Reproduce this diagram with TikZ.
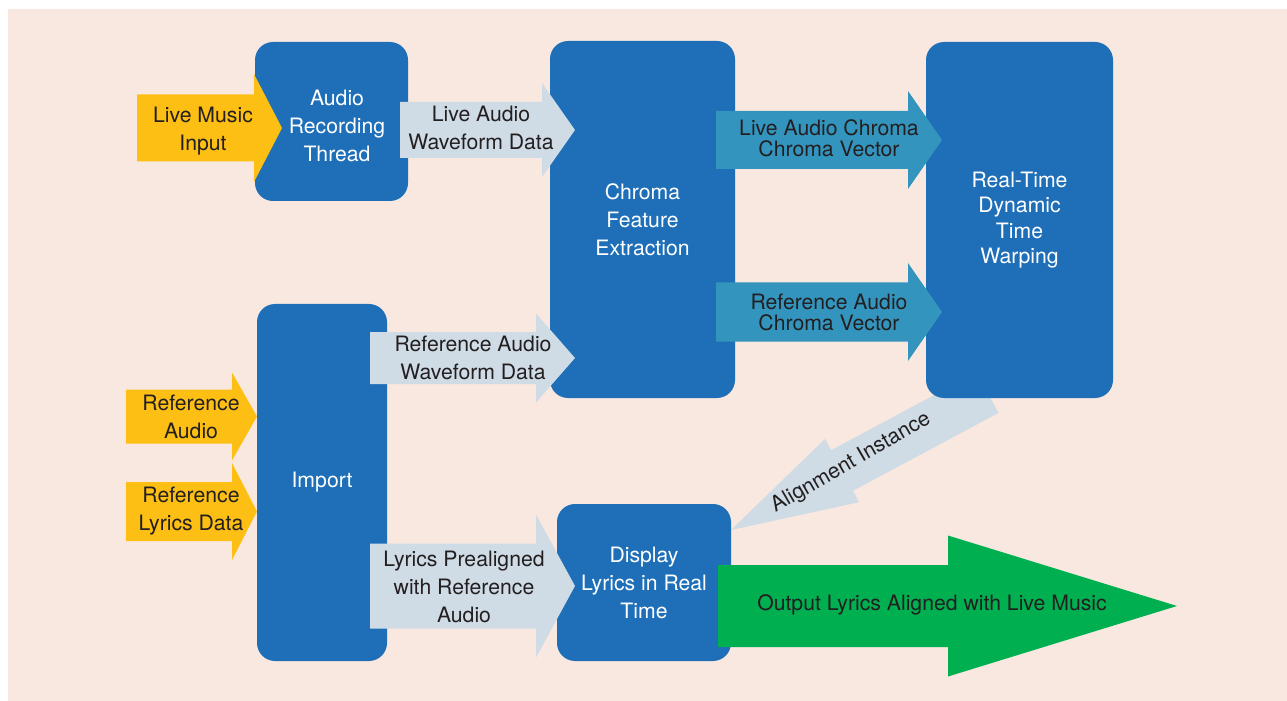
\documentclass[tikz,border=0pt]{standalone}
\usepackage{fontspec}
\setmainfont{TeX Gyre Heros}
\usepackage{xcolor}
\usepackage{tikz}
\usetikzlibrary{positioning}

\definecolor{peach}{HTML}{F9E8E0}
\definecolor{boxblue}{HTML}{1E6FB8}
\definecolor{paleblue}{HTML}{CFDCE6}
\definecolor{tealblue}{HTML}{3395BE}
\definecolor{amber}{HTML}{FDBF14}
\definecolor{brightgreen}{HTML}{00B050}
\definecolor{inkgray}{HTML}{231F20}

% fill colour, shaft start, head base, tip, centre y, shaft half, head half
\newcommand{\blockarrow}[7]{%
  \fill[#1] (#2,#5-#6) -- (#3,#5-#6) -- (#3,#5-#7) -- (#4,#5)
    -- (#3,#5+#7) -- (#3,#5+#6) -- (#2,#5+#6) -- cycle;}

\begin{document}
\begin{tikzpicture}[
    x=0.5pt, y=-0.5pt,
    box/.style={rectangle, fill=boxblue, rounded corners=9pt, text=white, align=center,
        inner sep=0pt, font=\fontsize{10.6}{14}\selectfont},
    boxtext/.style={text=white, align=center, inner sep=0pt, font=\fontsize{10.6}{14}\selectfont},
    arrowtext/.style={text=inkgray, align=center, inner sep=0pt, font=\fontsize{10.6}{14}\selectfont},
    tighttext/.style={arrowtext, font=\fontsize{10.6}{10.5}\selectfont}
]
    \useasboundingbox (0,0) rectangle (1287,701);
    \fill[peach] (8,9) rectangle (1287,701);

    \fill[paleblue] (976.7,372.3) -- (831.2,450.2) -- (825.1,438.8) -- (731,530)
        -- (859.1,502.2) -- (853,490.8) -- (998.5,412.9) -- cycle;

    \node[box, minimum width=76.5pt, minimum height=79.5pt] (rec) at (331.5,121.5) {};
    \node[boxtext] (rectext) at (337,126) {Audio\\Recording\\Thread};
    \node[box, minimum width=92.5pt, minimum height=178.5pt] (chroma) at (642.5,219.5) {Chroma\\Feature\\Extraction};
    \node[box, minimum width=93.5pt, minimum height=178pt, font=\fontsize{10.6}{12.75}\selectfont] (dtw) at (1019.5,220) {Real-Time\\Dynamic\\Time\\Warping};
    \node[box, minimum width=65pt, minimum height=178.5pt] (import) at (322,482.5) {Import};
    \node[box, minimum width=87pt, minimum height=78.5pt] (display) at (644,582.5) {Display\\Lyrics in Real\\Time};

    \blockarrow{amber}{137}{254}{282}{128}{33.5}{54}
    \blockarrow{amber}{126}{232}{257}{416.5}{27}{44}
    \blockarrow{amber}{126}{232}{257}{511.5}{29.5}{48.5}
    \blockarrow{paleblue}{400}{542}{575}{130}{28}{47}
    \blockarrow{paleblue}{370}{536}{575}{358}{26}{44.5}
    \blockarrow{paleblue}{370}{536}{575}{586}{42.5}{71.5}
    \blockarrow{tealblue}{716}{908}{942}{140}{29}{49}
    \blockarrow{tealblue}{716}{908}{942}{312}{29.5}{49}
    \blockarrow{brightgreen}{718}{948}{1177}{606}{41}{70.5}

    \node[arrowtext] (livein) at (203,131) {Live Music\\Input};
    \node[arrowtext] (refaudioin) at (191,416.5) {Reference\\Audio};
    \node[arrowtext] (reflyricsin) at (191,511.5) {Reference\\Lyrics Data};
    \node[arrowtext] (livewave) at (481,128) {Live Audio\\Waveform Data};
    \node[arrowtext] (refwave) at (473,357.5) {Reference Audio\\Waveform Data};
    \node[arrowtext] (prealigned) at (464,587) {Lyrics Prealigned\\with Reference\\Audio};
    \node[tighttext] (livechroma) at (829,138.5) {Live Audio Chroma\\Chroma Vector};
    \node[tighttext] (refchroma) at (829,312) {Reference Audio\\Chroma Vector};
    \node[arrowtext] (output) at (932,605) {Output Lyrics Aligned with Live Music};
    \node[arrowtext, rotate=30] (alignment) at (851,463) {Alignment Instance};
\end{tikzpicture}
\end{document}
